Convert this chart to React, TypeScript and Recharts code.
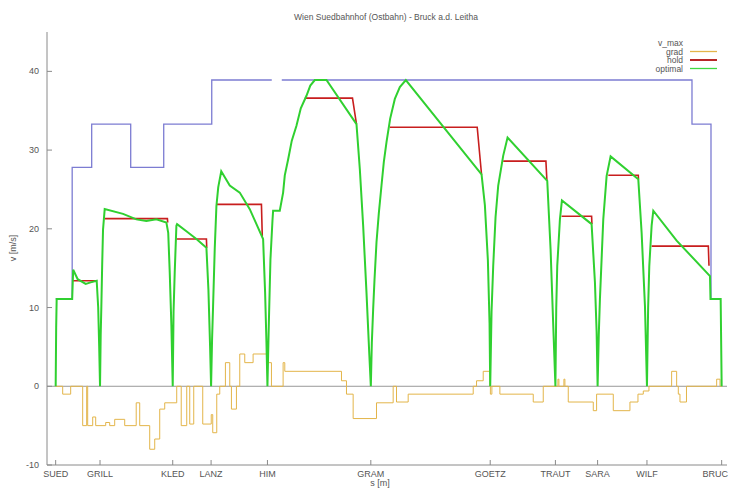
import React from 'react';
import { LineChart, Line, XAxis, YAxis, ReferenceLine } from 'recharts';

// stations along the line, s in metres
const stationNames = ['SUED', 'GRILL', 'KLED', 'LANZ', 'HIM', 'GRAM', 'GOETZ', 'TRAUT', 'SARA', 'WILF', 'BRUC'];
const stationPos = [0, 2660, 7020, 9320, 12700, 18900, 26060, 29970, 32500, 35460, 39940];
const yTicks = [-10, 0, 10, 20, 30, 40];

// speed limit [m/s]
const vmaxS = [0, 990, 2160, 4500, 6480, 9360, 12960, 13260, 13560, 38160, 39300, 39880];
const vmaxV = [11.1, 27.8, 33.3, 27.8, 33.3, 38.9, 38.9, null, 38.9, 33.3, 11.1, 11.1];

// gradient [permille]
const gradS = [0, 420, 900, 1620, 1860, 1920, 2220, 2400, 3000, 3240, 3540, 4140, 4830, 5040, 5640, 5940, 6240, 6540, 7260, 7530, 7860, 8040, 8280, 8820, 9330, 9420, 9660, 9840, 10180, 10440, 10540, 10840, 11040, 11340, 11840, 12740, 12940, 13640, 13740, 17140, 17440, 17840, 19240, 20240, 20440, 21140, 25040, 25240, 25640, 26040, 26070, 26160, 26640, 28640, 29240, 30120, 30180, 30480, 30540, 30740, 32240, 32440, 33440, 34440, 34920, 35240, 35580, 36940, 37240, 37340, 37440, 37830, 39640, 39840, 39960];
const gradV = [0, -1, 0, -5, 0, -5, -3.9, -5, -4.6, -5, -4.2, -5, -2.1, -5, -8, -6.7, -2.9, -2.1, 0, -5, 0, -4.8, 0, -4.8, -3.6, -5.9, -1, 0, 3, 0, -2.9, 0, 4.1, 3, 4.1, 3, 0, 3, 1.9, 0.7, -1, -4.1, -2.1, 0, -2, -1, 0, 0.7, 1.9, 0, -1, 0, -1, -2, 0, 0.9, 0, 0.9, 0, -2, -3.1, -1, -3.1, -2, -1, -0.6, 0, 1.9, 0, -1, -2, 0, 0.9, 0, 0];

// hold speed sections
const holdS = [1020, 2490, 2500, 2940, 6700, 6720, 6730, 7240, 9040, 9060, 9070, 9640, 12340, 12390, 12400, 14940, 17800, 18040, 18050, 20040, 25280, 25540, 25550, 26840, 29400, 29460, 29470, 30340, 32140, 32160, 32170, 33140, 34940, 34950, 34960, 35740, 39140, 39180];
const holdV = [13.4, 13.4, null, 21.3, 21.3, 20.8, null, 18.7, 18.7, 17.6, null, 23.1, 23.1, 19.1, null, 36.6, 36.6, 33.3, null, 32.9, 32.9, 26.9, null, 28.6, 28.6, 26.1, null, 21.6, 21.6, 20.6, null, 26.8, 26.8, 26.3, null, 17.8, 17.8, 15.3];

// optimal speed profile
const optS = [
  0, 30, 60, 990, 1050, 1320, 1800, 2100, 2460, 2550, 2610, 2660,
  2700, 2740, 2790, 2840, 2940, 4040, 4840, 5440, 6040, 6640, 6750, 6840, 6940, 7020,
  7070, 7140, 7240, 7280, 7840, 8440, 9040, 9160, 9260, 9320,
  9380, 9440, 9540, 9640, 9750, 9930, 10440, 11040, 11640, 12440, 12560, 12640, 12700,
  12780, 12880, 13000, 13040, 13440, 13640, 13740, 13940, 14160, 14440, 14700, 15040, 15270, 15540, 16240,
  18040, 18240, 18440, 18640, 18810, 18900,
  18960, 19040, 19120, 19240, 19380, 19540, 19680, 19840, 20060, 20340, 20640, 21000,
  25540, 25740, 25920, 26020, 26060,
  26140, 26240, 26380, 26540, 26840, 27100, 29480, 29680, 29820, 29970,
  30020, 30080, 30240, 30360, 32140, 32340, 32440, 32500,
  32570, 32640, 32840, 33040, 33280, 34940, 35140, 35340, 35460,
  35530, 35600, 35740, 35840, 37240, 39240, 39270, 39880, 39940,
];
const optV = [
  0, 7.5, 11.1, 11.1, 14.8, 13.6, 13.0, 13.2, 13.4, 10, 5, 0,
  6.5, 10.2, 15.5, 19.9, 22.5, 21.9, 21.2, 21.0, 21.2, 20.8, 19.5, 14.5, 7.7, 0,
  9.5, 14.5, 20.4, 20.6, 19.7, 18.7, 17.6, 12.3, 5.1, 0,
  6.0, 10.2, 17.5, 22.9, 25.3, 27.3, 25.5, 24.6, 22.5, 18.7, 11.9, 5.6, 0,
  7.7, 16.1, 21.0, 22.3, 22.3, 24.6, 26.8, 28.8, 31.2, 33.1, 35.3, 36.9, 38.2, 38.9, 38.9,
  33.3, 27.6, 20.4, 11.9, 4.0, 0,
  5.5, 9.8, 13.5, 18.3, 22.0, 25.5, 28.5, 31.0, 34.0, 36.5, 38.0, 38.9,
  26.9, 23.0, 16.0, 8.0, 0,
  9.5, 15.3, 21.5, 25.5, 29.3, 31.6, 26.1, 17.4, 8.9, 0,
  10.0, 15.3, 21.2, 23.6, 20.6, 13.2, 7.0, 0,
  6.5, 11.1, 21.2, 26.7, 29.2, 26.3, 19.5, 10.2, 0,
  10.0, 15.3, 20.4, 22.3, 18.5, 14.0, 11.1, 11.1, 0,
];

const legendNames = ['v_max', 'grad', 'hold', 'optimal'];
const legendColors = ['none', '#e3b54a', '#b82828', '#40d840'];

const toPoints = (s: number[], v: (number | null)[]) => s.map((x, i) => ({ s: x, v: v[i] }));

const vmaxData = toPoints(vmaxS, vmaxV);
const gradData = toPoints(gradS, gradV);
const holdData = toPoints(holdS, holdV);
const optData = toPoints(optS, optV);

const axisColor = '#8a8a8a';
const textColor = '#555';
const font = '"Liberation Sans", Arial, sans-serif';

const BottomTick = (p: any) => {
  const i = stationPos.indexOf(p.payload.value);
  const last = i === stationPos.length - 1;
  return (
    <g>
      <line x1={p.x} x2={p.x} y1={p.y} y2={p.y - 5} stroke={axisColor} />
      <text
        x={last ? 728 : p.x}
        y={p.y + 12}
        textAnchor={last ? 'end' : 'middle'}
        fontSize={9}
        fill={textColor}
        fontFamily={font}
      >
        {stationNames[i]}
      </text>
    </g>
  );
};

const TopTick = (p: any) => <line x1={p.x} x2={p.x} y1={p.y} y2={p.y + 5} stroke={axisColor} />;

const LeftTick = (p: any) => (
  <g>
    <line x1={p.x} x2={p.x + 5} y1={p.y} y2={p.y} stroke={axisColor} />
    <text x={p.x - 8} y={p.y + 3} textAnchor="end" fontSize={9} fill={textColor} fontFamily={font}>
      {p.payload.value}
    </text>
  </g>
);

const RightTick = (p: any) => <line x1={p.x} x2={p.x - 5} y1={p.y} y2={p.y} stroke={axisColor} />;

export default function App() {
  return (
    <div style={{ position: 'absolute', left: 0, top: 0, width: 729, height: 493, background: '#fff' }}>
      <LineChart width={729} height={493} margin={{ top: 32, right: 2, bottom: 0, left: 0 }}>
        <XAxis
          dataKey="s"
          type="number"
          domain={[-520, 40260]}
          allowDataOverflow
          ticks={stationPos}
          interval={0}
          height={28}
          tickSize={0}
          tickMargin={0}
          tickLine={false}
          axisLine={{ stroke: axisColor }}
          tick={(p: any) => <BottomTick {...p} />}
        />
        <XAxis
          xAxisId="top"
          orientation="top"
          dataKey="s"
          type="number"
          domain={[-520, 40260]}
          allowDataOverflow
          ticks={stationPos}
          interval={0}
          height={0}
          tickSize={0}
          tickMargin={0}
          tickLine={false}
          axisLine={{ stroke: axisColor }}
          tick={(p: any) => <TopTick {...p} />}
        />
        <YAxis
          type="number"
          domain={[-10, 45]}
          allowDataOverflow
          ticks={yTicks}
          interval={0}
          width={47}
          tickSize={0}
          tickMargin={0}
          tickLine={false}
          axisLine={{ stroke: axisColor }}
          tick={(p: any) => <LeftTick {...p} />}
        />
        <YAxis
          yAxisId="right"
          orientation="right"
          type="number"
          domain={[-10, 45]}
          allowDataOverflow
          ticks={yTicks}
          interval={0}
          width={0}
          tickSize={0}
          tickMargin={0}
          tickLine={false}
          axisLine={{ stroke: axisColor }}
          tick={(p: any) => <RightTick {...p} />}
        />
        <ReferenceLine y={0} stroke="#999" />
        <Line data={vmaxData} dataKey="v" type="stepAfter" stroke="#7c7cd2" strokeWidth={1.3} dot={false} isAnimationActive={false} />
        <Line data={gradData} dataKey="v" type="stepAfter" stroke="#e3b54a" strokeWidth={1} dot={false} isAnimationActive={false} />
        <Line data={holdData} dataKey="v" type="linear" stroke="#c81e1e" strokeWidth={1.6} dot={false} isAnimationActive={false} />
        <Line data={optData} dataKey="v" type="linear" stroke="#30d030" strokeWidth={2} dot={false} isAnimationActive={false} />
      </LineChart>
      <svg width={729} height={493} style={{ position: 'absolute', left: 0, top: 0, pointerEvents: 'none' }} fontFamily={font}>
        <text x={386} y={20} textAnchor="middle" fontSize={8.5} fill={textColor}>
          Wien Suedbahnhof (Ostbahn) - Bruck a.d. Leitha
        </text>
        <text transform="translate(16,248) rotate(-90)" textAnchor="middle" fontSize={9} fill={textColor}>
          v [m/s]
        </text>
        <text x={380} y={486} textAnchor="middle" fontSize={9} fill={textColor}>
          s [m]
        </text>
        {legendNames.map((n, i) => {
          const y = 43 + i * 8.5;
          return (
            <g key={n}>
              <text x={683} y={y + 3} textAnchor="end" fontSize={8.5} fill={textColor}>
                {n}
              </text>
              {legendColors[i] !== 'none' && (
                <line x1={690} x2={717} y1={y} y2={y} stroke={legendColors[i]} strokeWidth={i === 2 ? 2 : 1.3} />
              )}
            </g>
          );
        })}
      </svg>
    </div>
  );
}
